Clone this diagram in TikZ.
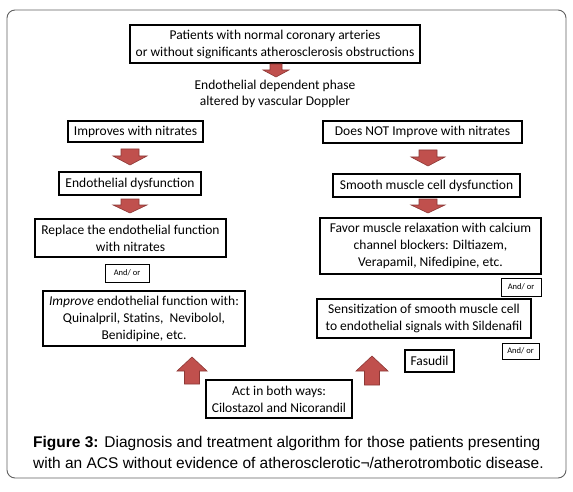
\documentclass[tikz,border=0pt]{standalone}
\usepackage{fontspec}
\setmainfont{Carlito}
\newfontfamily\capfont{Liberation Sans}
\definecolor{arrfill}{HTML}{C0504D}
\definecolor{arrline}{HTML}{8C3836}
\begin{document}
\begin{tikzpicture}[x=1pt,y=-1pt,
  box/.style={draw=black,line width=1.1pt,inner sep=0pt,align=center,font=\fontsize{13.5}{17}\selectfont},
  tiny/.style={draw=black,line width=1pt,inner sep=0pt,align=center,font=\fontsize{8.5}{9}\selectfont},
  arr/.style={fill=arrfill,draw=arrline,line width=0.6pt,line join=miter}]
\useasboundingbox (0,0) rectangle (573,492);
\draw[gray!75!black,line width=0.9pt,rounded corners=8pt] (7,10) rectangle (566,478);
\newcommand\darr[6]{\draw[arr] ({#1-#4/2},#2) -- ({#1+#4/2},#2) -- ({#1+#4/2},{#2+#5-#6}) -- ({#1+#3/2},{#2+#5-#6}) -- (#1,{#2+#5}) -- ({#1-#3/2},{#2+#5-#6}) -- ({#1-#4/2},{#2+#5-#6}) -- cycle;}
\newcommand\uarr[6]{\draw[arr] ({#1-#4/2},{#2+#5}) -- ({#1+#4/2},{#2+#5}) -- ({#1+#4/2},{#2+#6}) -- ({#1+#3/2},{#2+#6}) -- (#1,#2) -- ({#1-#3/2},{#2+#6}) -- ({#1-#4/2},{#2+#6}) -- cycle;}
\node[box,minimum width=290,minimum height=38] (top) at (275,44) {Patients with normal coronary arteries\\or without significants atherosclerosis obstructions};
\node[align=center,inner sep=0pt,font=\fontsize{13.5}{16.5}\selectfont] (phase) at (275,94) {Endothelial dependent phase\\altered by vascular Doppler};
\node[box,minimum width=135,minimum height=21] (imp) at (135.5,131.5) {Improves with nitrates};
\node[box,minimum width=199,minimum height=22] (notimp) at (422.5,132) {Does NOT Improve with nitrates};
\node[box,minimum width=142,minimum height=23] (endo) at (130,183.5) {Endothelial dysfunction};
\node[box,minimum width=187,minimum height=23] (smooth) at (426.5,185.5) {Smooth muscle cell dysfunction};
\node[box,minimum width=191,minimum height=38] (repl) at (130.5,238) {Replace the endothelial function\\with nitrates};
\node[box,minimum width=221,minimum height=56] (favor) at (430.5,246) {Favor muscle relaxation with calcium\\channel blockers: Diltiazem,\\Verapamil, Nifedipine, etc.};
\node[tiny,minimum width=44,minimum height=18] (ao1) at (127,273) {And/ or};
\node[box,minimum width=202,minimum height=55] (impr) at (144,318.5) {\textit{Improve} endothelial function with:\\Quinalpril, Statins,\ \ Nevibolol,\\Benidipine, etc.};
\node[tiny,minimum width=40,minimum height=18] (ao2) at (521,287) {And/ or};
\node[box,minimum width=214,minimum height=39] (sens) at (424,318.5) {Sensitization of smooth muscle cell\\to endothelial signals with Sildenafil};
\node[tiny,minimum width=37,minimum height=16] (ao3) at (520.5,351) {And/ or};
\node[box,minimum width=49,minimum height=22] (fas) at (429.5,361) {Fasudil};
\node[box,minimum width=146,minimum height=38] (act) at (279,399) {Act in both ways:\\Cilostazol and Nicorandil};
\darr{276}{64}{26}{12}{13}{7}
\darr{130}{149}{34}{18}{16}{9}
\darr{428}{150}{34}{18}{16}{9}
\darr{130}{199}{34}{18}{14}{8}
\darr{428}{199}{34}{18}{14}{8}
\uarr{192}{357}{30}{15}{27}{14}
\uarr{372}{356}{32}{15}{29}{15}
\node[anchor=west,inner sep=0pt,align=left,font=\capfont\fontsize{15.5}{21}\selectfont] (cap) at (33,452.5) {\textbf{Figure 3:} Diagnosis and treatment algorithm for those patients presenting\\with an ACS without evidence of atherosclerotic¬/atherotrombotic disease.};
\end{tikzpicture}
\end{document}
